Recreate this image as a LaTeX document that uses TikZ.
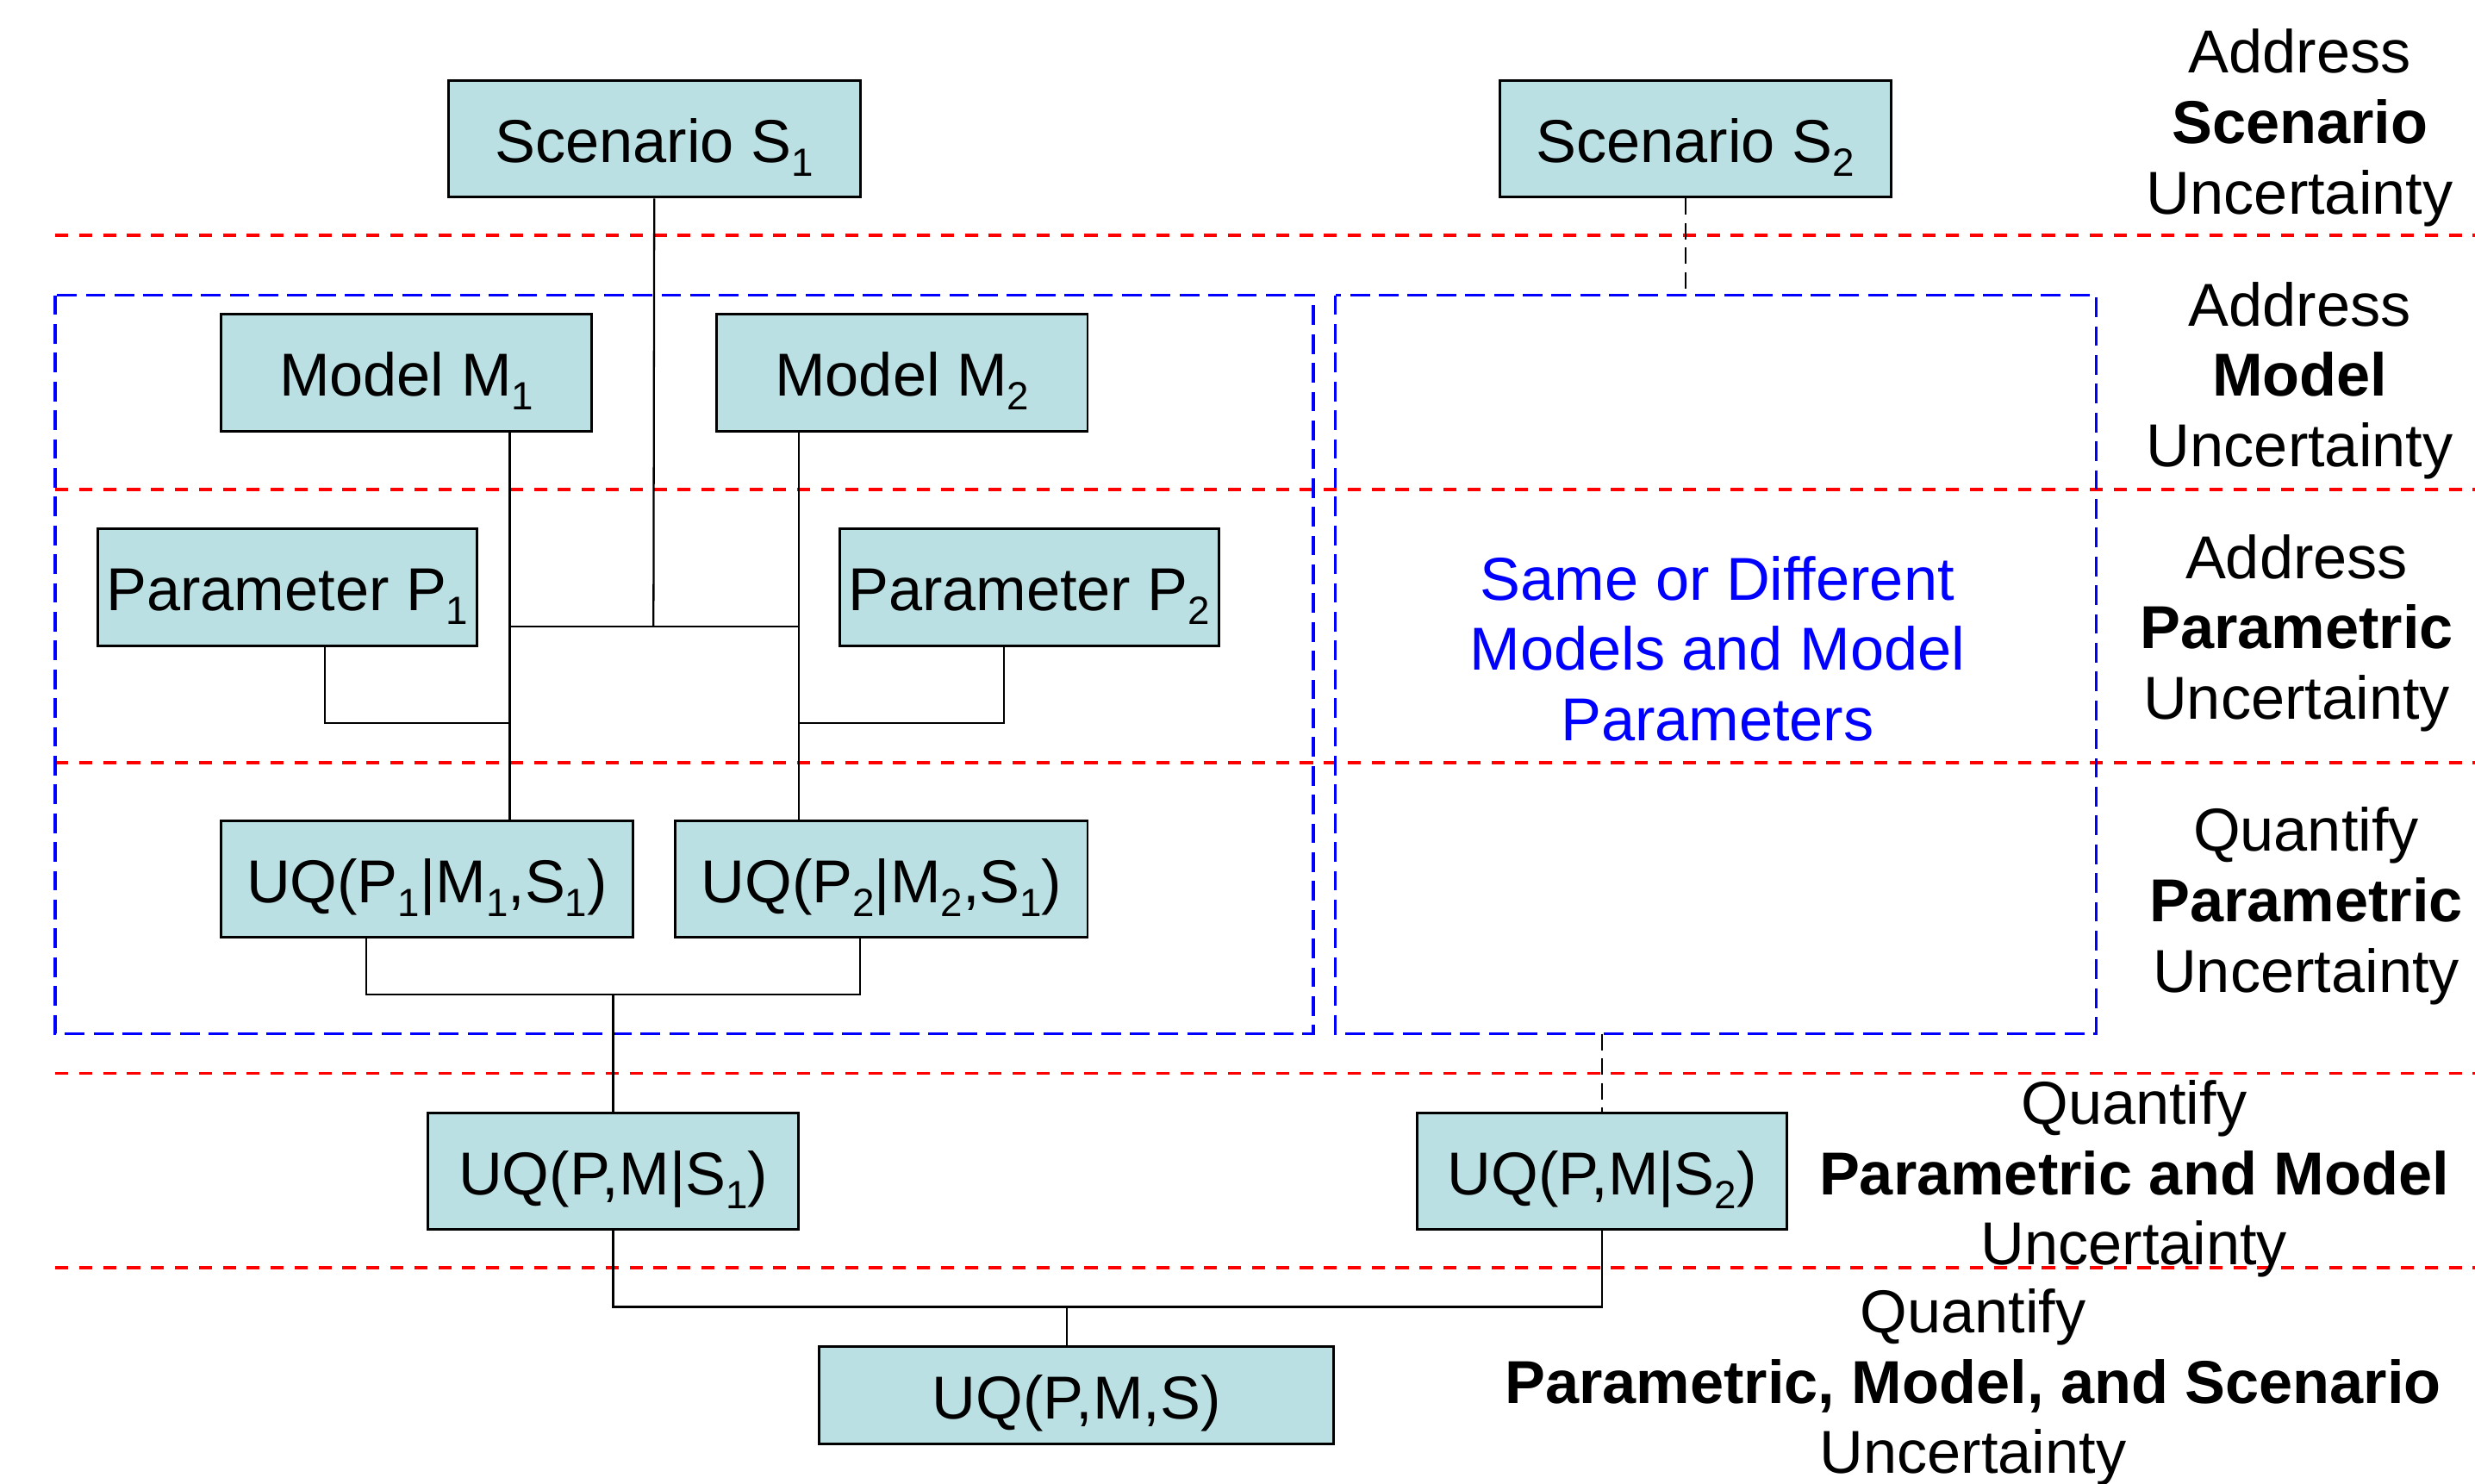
\documentclass[tikz,border=0pt]{standalone}
\usepackage{fontspec}
\setmainfont{Liberation Sans}
\usetikzlibrary{calc}

\definecolor{boxfill}{RGB}{187,224,227}

% tiefgestellte Indizes
\newcommand\lowsub[1]{\raisebox{-4.7pt}{\fontsize{13}{13}\selectfont #1}}

\tikzset{
  uqbox/.style={draw=black, line width=0.85pt, fill=boxfill, inner sep=0pt,
    text height=15.4pt, text depth=0pt,
    minimum height=74*0.018316cm, font=\fontsize{20}{23.2}\selectfont},
  sidelabel/.style={align=center, inner sep=0pt, font=\fontsize{20}{23.2}\selectfont},
  link/.style={draw=black, line width=0.65pt},
  dlink/.style={draw=black, line width=0.65pt, dash pattern=on 5.4pt off 2.7pt},
  levelsep/.style={draw=red, line width=1.1pt, dash pattern=on 4.3pt off 3.6pt},
  zone/.style={draw=blue, line width=1pt, dash pattern=on 6.5pt off 3pt}
}

\begin{document}
\begin{tikzpicture}[x=0.018316cm, y=-0.018316cm, line join=miter]

  \useasboundingbox (0,0) rectangle (1568,940);

  % Trennlinien der Ebenen
  \foreach \y in {149,310,483,680,803}
    \draw[levelsep] (35,\y) -- (1568,\y);

  % Bereiche fuer die beiden Szenarien
  \draw[zone] (35,187) rectangle (832,655);
  \draw[zone] (846,187) rectangle (1328,655);

  % Kaesten
  \node[uqbox, minimum width=261*0.018316cm] (s1) at (414.5,88) {Scenario S\lowsub{1}};
  \node[uqbox, minimum width=248*0.018316cm] (s2) at (1074,88) {Scenario S\lowsub{2}};
  \node[uqbox, minimum width=235*0.018316cm] (m1) at (257.5,236) {Model M\lowsub{1}};
  \node[uqbox, minimum width=235*0.018316cm] (m2) at (571.5,236) {Model M\lowsub{2}};
  \node[uqbox, minimum width=240*0.018316cm] (p1) at (182,372) {Parameter P\lowsub{1}};
  \node[uqbox, minimum width=240*0.018316cm] (p2) at (652,372) {Parameter P\lowsub{2}};
  \node[uqbox, minimum width=261*0.018316cm] (uq1) at (270.5,557)
    {UQ(P\lowsub{1}|M\lowsub{1},S\lowsub{1})};
  \node[uqbox, minimum width=261*0.018316cm] (uq2) at (558.5,557)
    {UQ(P\lowsub{2}|M\lowsub{2},S\lowsub{1})};
  \node[uqbox, minimum width=235*0.018316cm] (pm1) at (388.5,742) {UQ(P,M|S\lowsub{1})};
  \node[uqbox, minimum width=234*0.018316cm] (pm2) at (1015,742) {UQ(P,M|S\lowsub{2})};
  \node[uqbox, minimum width=326*0.018316cm, minimum height=62*0.018316cm] (pms) at (682,884) {UQ(P,M,S)};

  % Abzweigpunkte
  \coordinate (jS1) at (414,397);
  \coordinate (jM1) at (323,397);
  \coordinate (jM2) at (506,397);
  \coordinate (jP1) at (323,458);
  \coordinate (jP2) at (506,458);
  \coordinate (kP1) at (206,458);
  \coordinate (kP2) at (636,458);
  \coordinate (kU1) at (232,630);
  \coordinate (kU2) at (545,630);
  \coordinate (jU) at (388.5,630);
  \coordinate (kS2) at (1015,828);
  \coordinate (jF) at (676,828);
  \coordinate (kZ1) at (1068,187);
  \coordinate (kZ2) at (1015,655);

  % Verbindungen
  \draw[link] (s1.south) -- (jS1);
  \draw[link] (jM1) -- (jM2);
  \draw[link] (m1.south -| jM1) -- (uq1.north -| jM1);
  \draw[link] (m2.south -| jM2) -- (uq2.north -| jM2);
  \draw[link] (p1.south -| kP1) |- (jP1);
  \draw[link] (p2.south -| kP2) |- (jP2);
  \draw[link] (uq1.south -| kU1) |- (kU2) -- (uq2.south -| kU2);
  \draw[link] (jU) -- (pm1.north);
  \draw[link] (pm1.south) |- (kS2) -- (pm2.south);
  \draw[link] (jF) -- (pms.north -| jF);
  \draw[dlink] (s2.south -| kZ1) -- (kZ1);
  \draw[dlink] (kZ2) -- (pm2.north);

  % Text im rechten Bereich
  \node[sidelabel, text=blue] (same) at (1088,411)
    {Same or Different\\Models and Model\\Parameters};

  % Beschriftung der Ebenen
  \node[sidelabel] (lscen) at (1457,81) {Address\\\textbf{Scenario}\\Uncertainty};
  \node[sidelabel] (lmod) at (1457,241) {Address\\\textbf{Model}\\Uncertainty};
  \node[sidelabel] (lpar) at (1455,401) {Address\\\textbf{Parametric}\\Uncertainty};
  \node[sidelabel] (lqpar) at (1461,574) {Quantify\\\textbf{Parametric}\\Uncertainty};
  \node[sidelabel] (lqpm) at (1352,747) {Quantify\\\textbf{Parametric and Model}\\Uncertainty};
  \node[sidelabel] (lqall) at (1250,879) {Quantify\\\textbf{Parametric, Model, and Scenario}\\Uncertainty};

\end{tikzpicture}
\end{document}
